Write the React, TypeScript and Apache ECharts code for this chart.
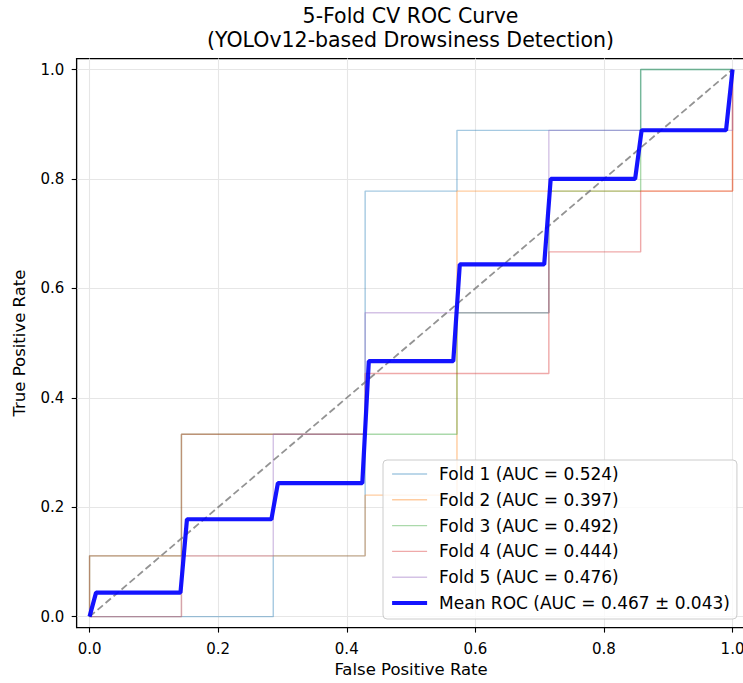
import React, { useEffect, useRef } from 'react';
import * as echarts from 'echarts';

const FONT = "'DejaVu Sans', 'Noto Sans', sans-serif";

const titleText = '5-Fold CV ROC Curve\n(YOLOv12-based Drowsiness Detection)';
const xName = 'False Positive Rate';
const yName = 'True Positive Rate';
const tickValues = [0, 0.2, 0.4, 0.6, 0.8, 1.0];

const foldNames = [
  'Fold 1 (AUC = 0.524)',
  'Fold 2 (AUC = 0.397)',
  'Fold 3 (AUC = 0.492)',
  'Fold 4 (AUC = 0.444)',
  'Fold 5 (AUC = 0.476)',
];
const foldColors = [
  'rgba(31,119,180,0.4)',
  'rgba(255,127,14,0.4)',
  'rgba(44,160,44,0.4)',
  'rgba(214,39,40,0.4)',
  'rgba(148,103,189,0.4)',
];

const fold1Fpr = [0, 0.2857, 0.2857, 0.4286, 0.4286, 0.5714, 0.5714, 0.8571, 0.8571, 1.0];
const fold1Tpr = [0, 0, 0.1111, 0.1111, 0.7778, 0.7778, 0.8889, 0.8889, 1.0, 1.0];

const fold2Fpr = [0, 0.1429, 0.1429, 0.4286, 0.4286, 0.5714, 0.5714, 1.0, 1.0];
const fold2Tpr = [0, 0, 0.1111, 0.1111, 0.2222, 0.2222, 0.7778, 0.7778, 1.0];

const fold3Fpr = [0, 0, 0.1429, 0.1429, 0.5714, 0.5714, 0.7143, 0.7143, 0.8571, 0.8571, 1.0];
const fold3Tpr = [0, 0.1111, 0.1111, 0.3333, 0.3333, 0.5556, 0.5556, 0.7778, 0.7778, 1.0, 1.0];

const fold4Fpr = [0, 0, 0.1429, 0.1429, 0.4286, 0.4286, 0.7143, 0.7143, 0.8571, 0.8571, 1.0, 1.0];
const fold4Tpr = [0, 0.1111, 0.1111, 0.3333, 0.3333, 0.4444, 0.4444, 0.6667, 0.6667, 0.7778, 0.7778, 1.0];

const fold5Fpr = [0, 0.1429, 0.1429, 0.2857, 0.2857, 0.4286, 0.4286, 0.7143, 0.7143, 1.0, 1.0];
const fold5Tpr = [0, 0, 0.1111, 0.1111, 0.3333, 0.3333, 0.5556, 0.5556, 0.8889, 0.8889, 1.0];

const meanName = 'Mean ROC (AUC = 0.467 ± 0.043)';
const meanFpr = [0, 0.0101, 0.1414, 0.1515, 0.2828, 0.2929, 0.4242, 0.4343, 0.5657, 0.5758, 0.7071, 0.7172, 0.8485, 0.8586, 0.9899, 1.0];
const meanTpr = [0, 0.044, 0.044, 0.178, 0.178, 0.244, 0.244, 0.467, 0.467, 0.644, 0.644, 0.8, 0.8, 0.889, 0.889, 1.0];

const chanceFpr = [0, 1];
const chanceTpr = [0, 1];

const foldFprs = [fold1Fpr, fold2Fpr, fold3Fpr, fold4Fpr, fold5Fpr];
const foldTprs = [fold1Tpr, fold2Tpr, fold3Tpr, fold4Tpr, fold5Tpr];

const MEAN_COLOR = 'rgba(0,0,255,0.92)';
const FOLD_WIDTH = 1.4;
const MEAN_WIDTH = 4.2;

const zip = (xs: number[], ys: number[]) => xs.map((x, i) => [x, ys[i]]);

export default function App() {
  const ref = useRef<HTMLDivElement>(null);

  useEffect(() => {
    if (!ref.current) return;
    const chart = echarts.init(ref.current, undefined, { renderer: 'svg' });

    const axisCommon = (name: string, gap: number, labelMargin: number) => ({
      type: 'value',
      min: -0.02,
      max: 1.02,
      name,
      nameLocation: 'middle',
      nameGap: gap,
      nameTextStyle: { fontSize: 16.5, color: '#000', fontFamily: FONT },
      axisLine: { show: true, onZero: false, lineStyle: { color: '#000', width: 1.1 } },
      axisTick: { show: true, length: 5, inside: false, customValues: tickValues, lineStyle: { color: '#000', width: 1.1 } },
      axisLabel: {
        customValues: tickValues,
        formatter: (v: number) => v.toFixed(1),
        margin: labelMargin,
        fontSize: 15,
        color: '#000',
        fontFamily: FONT,
      },
      splitLine: { show: true, lineStyle: { color: '#e6e6e6', width: 1.1 } },
    });

    const foldSeries = foldNames.map((name, i) => ({
      name,
      type: 'line',
      data: zip(foldFprs[i], foldTprs[i]),
      symbol: 'none',
      lineStyle: { color: foldColors[i], width: FOLD_WIDTH },
      itemStyle: { color: 'transparent', borderWidth: 0 },
      z: 2,
    }));

    const legendData = [
      ...foldNames.map((name, i) => ({
        name,
        lineStyle: { color: foldColors[i], width: FOLD_WIDTH },
      })),
      { name: meanName, lineStyle: { color: MEAN_COLOR, width: MEAN_WIDTH } },
    ];

    chart.setOption({
      animation: false,
      backgroundColor: '#ffffff',
      textStyle: { fontFamily: FONT },
      title: {
        text: titleText,
        left: 410.5,
        top: 4,
        textAlign: 'center',
        padding: 0,
        textStyle: { fontSize: 20.5, fontWeight: 'normal', color: '#000', lineHeight: 24, fontFamily: FONT },
      },
      grid: {
        left: 76.7,
        top: 58.6,
        width: 668.7,
        height: 569,
        show: true,
        borderColor: '#000',
        borderWidth: 1.1,
        backgroundColor: 'transparent',
        containLabel: false,
        outerBoundsMode: 'none',
      },
      xAxis: axisCommon(xName, 33.6, 13.7),
      yAxis: axisCommon(yName, 48.5, 12.4),
      legend: {
        data: legendData,
        orient: 'vertical',
        left: 383,
        top: 460,
        padding: [5.5, 7, 7.5, 7],
        itemWidth: 35,
        itemHeight: 14,
        itemGap: 8.8,
        selectedMode: false,
        backgroundColor: 'rgba(255,255,255,0.8)',
        borderColor: '#cccccc',
        borderWidth: 1,
        borderRadius: 4,
        itemStyle: { opacity: 0 },
        textStyle: { fontSize: 17, color: '#000', fontFamily: FONT, padding: [0, 0, 0, 7] },
      },
      series: [
        ...foldSeries,
        {
          name: 'Chance',
          type: 'line',
          data: zip(chanceFpr, chanceTpr),
          symbol: 'none',
          lineStyle: { color: 'rgba(128,128,128,0.85)', width: 1.8, type: [7, 3.5] },
          z: 3,
        },
        {
          name: meanName,
          type: 'line',
          data: zip(meanFpr, meanTpr),
          symbol: 'none',
          lineStyle: { color: MEAN_COLOR, width: MEAN_WIDTH },
          itemStyle: { color: 'transparent', borderWidth: 0 },
          z: 4,
        },
      ],
    });

    return () => chart.dispose();
  }, []);

  return (
    <div style={{ position: 'fixed', left: 0, top: 0, width: 743, height: 683, overflow: 'hidden', background: '#fff' }}>
      <div ref={ref} style={{ width: 743, height: 683 }} />
    </div>
  );
}
